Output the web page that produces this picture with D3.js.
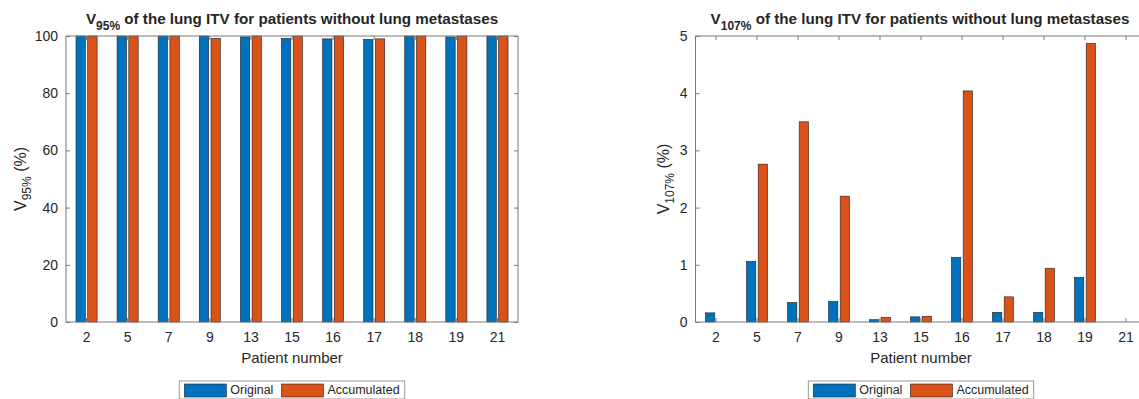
<!DOCTYPE html>
<meta charset="utf-8">
<style>
body { margin: 0; background: #fff; }
text { font-family: "Liberation Sans", Arial, sans-serif; fill: #262626; }
.box { fill: none; stroke: #7a7a7a; stroke-width: 1; }
.tick line { stroke: #7a7a7a; }
</style>
<body>
<script src="https://d3js.org/d3.v7.min.js"></script>
<script>

// Data
var patients = ["2", "5", "7", "9", "13", "15", "16", "17", "18", "19", "21"];
var seriesNames = ["Original", "Accumulated"];
var v95Original    = [100, 100, 100, 100, 99.7, 99.2, 99.0, 98.8, 100, 99.7, 100];
var v95Accumulated = [100, 100, 100, 99.2, 100, 100, 100, 99.0, 100, 100, 100];
var v107Original    = [0.16, 1.06, 0.34, 0.36, 0.04, 0.09, 1.13, 0.17, 0.17, 0.78, 0];
var v107Accumulated = [0, 2.76, 3.50, 2.20, 0.08, 0.10, 4.04, 0.44, 0.94, 4.87, 0];
var v95Ticks = [0, 20, 40, 60, 80, 100];
var v107Ticks = [0, 1, 2, 3, 4, 5];

var colors = ["#0072BD", "#D95319"];

var svg = d3.select("body").append("svg")
    .attr("width", 1139)
    .attr("height", 399);

function drawPanel(opts) {
  var width = opts.right - opts.left,
      height = opts.bottom - opts.top;

  var g = svg.append("g")
      .attr("transform", "translate(" + opts.left + "," + opts.top + ")");

  var x = d3.scaleBand().domain(patients).range([0, width]);
  var bw = x.bandwidth();
  var x1 = d3.scaleBand().domain(seriesNames)
      .range([0.2143 * bw, 0.7857 * bw])
      .paddingInner(0.2).paddingOuter(0.1);
  var y = d3.scaleLinear().domain(opts.domain).range([height, 0]);

  var rows = patients.map(function(p, i) {
    return { p: p, vals: [opts.orig[i], opts.acc[i]] };
  });

  // bars
  var grp = g.selectAll(".grp")
      .data(rows)
    .enter().append("g")
      .attr("transform", function(d) { return "translate(" + x(d.p) + ",0)"; });

  grp.selectAll("rect")
      .data(function(d) { return d.vals.map(function(v, k) { return { k: k, v: v }; }); })
    .enter().append("rect")
      .filter(function(d) { return d.v > 0; })
      .attr("x", function(d) { return x1(seriesNames[d.k]); })
      .attr("width", x1.bandwidth())
      .attr("y", function(d) { return y(d.v); })
      .attr("height", function(d) { return height - y(d.v); })
      .attr("fill", function(d) { return colors[d.k]; })
      .attr("stroke", "#222")
      .attr("stroke-width", 0.6);

  // axes with inward ticks on all four sides
  var fmt = function(d) { return d; };
  g.append("g").attr("transform", "translate(0," + height + ")")
      .call(d3.axisBottom(x).tickSize(-4).tickPadding(10));
  g.append("g")
      .call(d3.axisTop(x).tickSize(-4).tickFormat(""));
  g.append("g")
      .call(d3.axisLeft(y).tickValues(opts.ticks).tickFormat(fmt).tickSize(-4).tickPadding(8));
  g.append("g").attr("transform", "translate(" + width + ",0)")
      .call(d3.axisRight(y).tickValues(opts.ticks).tickSize(-4).tickFormat(""));
  g.selectAll(".domain").remove();
  g.selectAll(".tick text")
      .attr("font-size", 14)
      .attr("font-family", "Liberation Sans, Arial, sans-serif")
      .attr("fill", "#262626");

  g.append("rect").attr("class", "box")
      .attr("width", width).attr("height", height);

  // x label
  g.append("text")
      .attr("x", width / 2)
      .attr("y", height + 41)
      .attr("text-anchor", "middle")
      .attr("font-size", 15)
      .text("Patient number");

  // y label
  var yl = g.append("text")
      .attr("transform", "rotate(-90)")
      .attr("x", -height / 2)
      .attr("y", opts.ylabX - opts.left)
      .attr("text-anchor", "middle")
      .attr("font-size", 16);
  yl.append("tspan").text("V");
  yl.append("tspan").attr("dy", 5).attr("font-size", 12).text(opts.sub);
  yl.append("tspan").attr("dy", -5).text(" (%)");

  // title
  var t = g.append("text")
      .attr("x", opts.titleX - opts.left)
      .attr("y", -12)
      .attr("text-anchor", "middle")
      .attr("font-size", 15.2)
      .attr("font-weight", "bold");
  t.append("tspan").text("V");
  t.append("tspan").attr("dy", 6).attr("font-size", 12).text(opts.sub);
  t.append("tspan").attr("dy", -6).text(" of the lung ITV for patients without lung metastases");

  // legend
  var lg = svg.append("g")
      .attr("transform", "translate(" + (opts.left + width / 2) + ",382)");
  var items = lg.selectAll(".item")
      .data(seriesNames)
    .enter().append("g");
  var lt = items.append("text")
      .attr("y", 12)
      .attr("font-size", 12.5)
      .text(function(d) { return d; });
  var sw = 42, gap = 4, pad = 5, between = 8;
  var widths = lt.nodes().map(function(n) { return n.getComputedTextLength(); });
  var total = pad + sw + gap + widths[0] + between + sw + gap + widths[1] + pad;
  var pos = [-total / 2 + pad, -total / 2 + pad + sw + gap + widths[0] + between];
  items.attr("transform", function(d, i) { return "translate(" + pos[i] + ",0)"; });
  items.insert("rect", "text")
      .attr("x", 0).attr("y", 2)
      .attr("width", sw).attr("height", 13)
      .attr("fill", function(d, i) { return colors[i]; })
      .attr("stroke", "#222").attr("stroke-width", 0.6);
  lt.attr("x", sw + gap);
  lg.insert("rect", "g")
      .attr("x", -total / 2).attr("y", -1)
      .attr("width", total).attr("height", 18)
      .attr("fill", "#fff")
      .attr("stroke", "#9a9a9a");
}

drawPanel({ left: 66, right: 518, top: 36, bottom: 322, domain: [0, 100],
            ticks: v95Ticks, orig: v95Original, acc: v95Accumulated,
            sub: "95%", ylabX: 26, titleX: 292 });
drawPanel({ left: 695.5, right: 1146.5, top: 36, bottom: 322, domain: [0, 5],
            ticks: v107Ticks, orig: v107Original, acc: v107Accumulated,
            sub: "107%", ylabX: 669, titleX: 920 });

</script>
</body>
